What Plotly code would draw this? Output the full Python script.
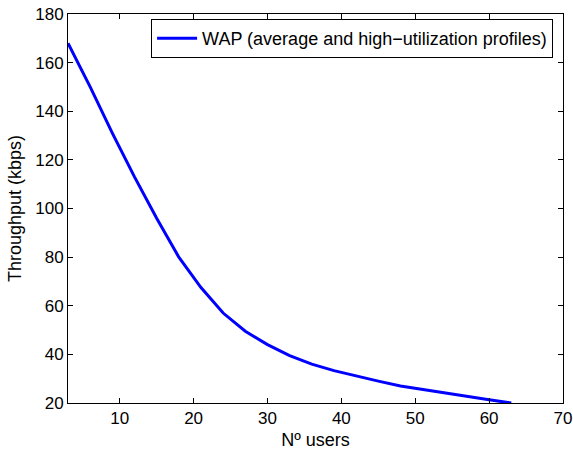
import plotly.graph_objects as go

users = [3, 6, 9, 12, 15, 18, 21, 24, 27, 30, 33, 36, 39, 42, 45, 48, 51, 54, 57, 60, 63]
throughput = [168, 150, 131, 113, 96, 80, 67.5, 57, 49.5, 44, 39.5, 36, 33.3, 31, 29, 27,
              25.5, 24, 22.5, 21.3, 20]
series_name = "WAP (average and high\u2212utilization profiles)"
x_ticks = [10, 20, 30, 40, 50, 60, 70]
y_ticks = [20, 40, 60, 80, 100, 120, 140, 160, 180]

TICK_FS = 17
LABEL_FS = 18

fig = go.Figure()
fig.add_trace(go.Scatter(x=users, y=throughput, mode="lines", name=series_name,
                         line=dict(color="#0000ff", width=3)))

axis_common = dict(showgrid=False, zeroline=False, showline=True, linecolor="black",
                   linewidth=1, mirror="ticks", ticks="inside", ticklen=5,
                   tickcolor="black", tickfont=dict(size=TICK_FS, color="black"),
                   automargin=False, ticklabeloverflow="allow")

fig.update_layout(
    width=573, height=450,
    margin=dict(l=68, r=10, t=14, b=47),
    paper_bgcolor="white", plot_bgcolor="white",
    font=dict(family="Liberation Sans, Arial, sans-serif", size=LABEL_FS, color="black"),
    showlegend=True,
    legend=dict(x=0.98, y=0.987, xanchor="right", yanchor="top",
                bordercolor="black", borderwidth=1, bgcolor="white",
                font=dict(size=LABEL_FS), tracegroupgap=0, itemwidth=40),
    xaxis=dict(range=[3, 70], tickvals=x_ticks,
               title=dict(text="N\u00ba users", standoff=5, font=dict(size=LABEL_FS)),
               **axis_common),
    yaxis=dict(range=[20, 180], tickvals=y_ticks,
               title=dict(text="Throughput (kbps)", standoff=8, font=dict(size=LABEL_FS)),
               **axis_common),
)
# remove the page's default 8px body margin so the figure fills the window exactly
fig.write_html("out.html", config={"displayModeBar": False},
               post_script="document.body.style.margin='0';")
